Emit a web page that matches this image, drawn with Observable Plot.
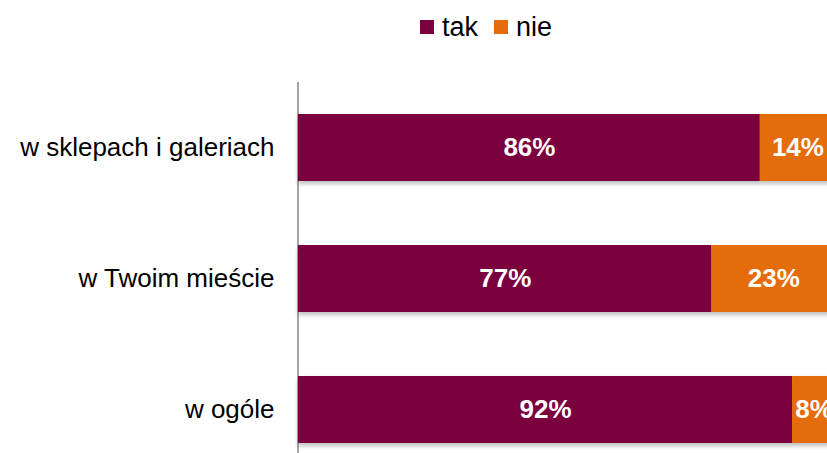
<!DOCTYPE html>
<html><head><meta charset="utf-8">
<script src="https://cdn.jsdelivr.net/npm/d3@7"></script>
<script src="https://cdn.jsdelivr.net/npm/@observablehq/plot@0.6"></script>
<style>
html,body{margin:0;padding:0;background:#fff;overflow:hidden;}
#wrap{position:relative;width:827px;height:453px;overflow:hidden;font-family:"Liberation Sans",Arial,sans-serif;}
#legend{position:absolute;left:420px;top:12px;height:30px;font-size:27px;color:#000;display:flex;align-items:center;}
.sw{display:inline-block;width:14px;height:14px;margin-right:8px;}
.it{display:flex;align-items:center;margin-right:16px;}
#chart{position:absolute;left:0;top:56px;width:836px;}
#chart svg{max-width:none !important;}
</style></head><body>
<div id="wrap"><div id="legend"></div><div id="chart"></div></div>
<script>
const categories = ["w sklepach i galeriach", "w Twoim mieście", "w ogóle"];
const answers = ["tak", "nie"];
const takValues = [86, 77, 92];
const nieValues = [14, 23, 8];
const colors = ["#7A003E", "#E46C0A"];

const data = [];
categories.forEach((c, i) => {
  data.push({category: c, answer: "tak", value: takValues[i]});
  data.push({category: c, answer: "nie", value: nieValues[i]});
});

const leg = document.getElementById("legend");
answers.forEach((a, i) => {
  const it = document.createElement("span"); it.className = "it";
  const sw = document.createElement("span"); sw.className = "sw"; sw.style.background = colors[i];
  it.appendChild(sw); it.appendChild(document.createTextNode(a));
  leg.appendChild(it);
});

const chart = Plot.plot({
  width: 836, height: 420,
  marginLeft: 298, marginRight: 1, marginTop: 26, marginBottom: 0,
  style: {fontFamily: "Liberation Sans, Arial, sans-serif", background: "#fff", overflow: "visible", maxWidth: "none"},
  x: {domain: [0, 100], axis: null},
  y: {domain: categories, paddingInner: 0.486, paddingOuter: 0.243, label: null},
  color: {domain: answers, range: colors},
  marks: [
    Plot.ruleX([0], {stroke: "#A6A6A6", strokeWidth: 2, dx: -0.5}),
    Plot.barX(data, Plot.stackX({x: "value", y: "category", fill: "answer", order: answers,
      imageFilter: "drop-shadow(0px 3px 2px rgba(0,0,0,0.25))"})),
    Plot.text(data, Plot.stackX({x: "value", y: "category", z: "answer", order: answers,
      text: d => d.value + "%", fill: "#fff", fontWeight: "bold", fontSize: 26})),
    Plot.axisY({tickSize: 0, tickPadding: 24, fontSize: 26, color: "#000", label: null})
  ]
});
document.getElementById("chart").appendChild(chart);
</script>
</body></html>
